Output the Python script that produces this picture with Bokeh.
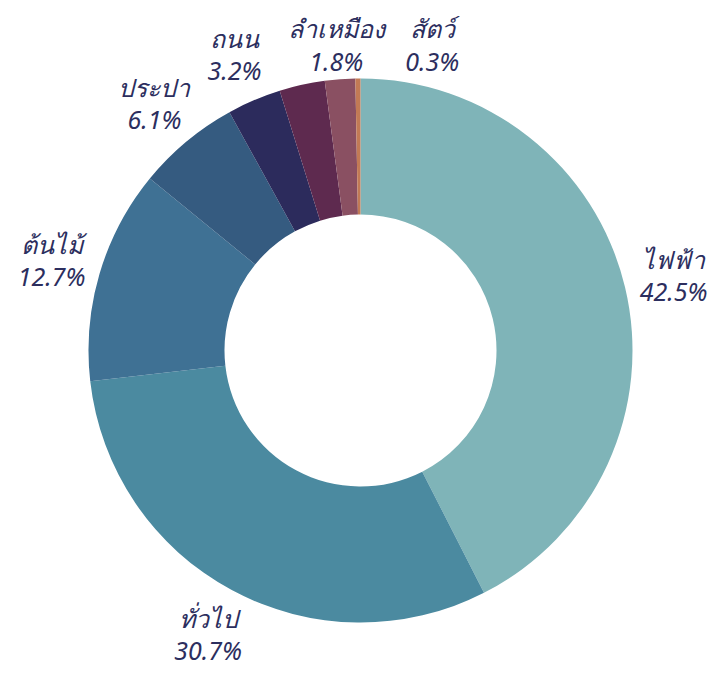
import math
from bokeh.plotting import figure
from bokeh.models import ColumnDataSource, Range1d
from bokeh.core.properties import value
from bokeh.embed import file_html
from bokeh.resources import INLINE

# ---- data (clockwise from 12 o'clock) ----
categories = ["ไฟฟ้า", "ทั่วไป", "ต้นไม้", "ประปา", "ถนน", "", "ลำเหมือง", "สัตว์"]
shares = [42.5, 30.7, 12.7, 6.1, 3.2, 2.7, 1.8, 0.3]
pct_labels = ["42.5%", "30.7%", "12.7%", "6.1%", "3.2%", "", "1.8%", "0.3%"]
colors = ["#7fb4b8", "#4b8aa0", "#3f7194", "#355b80", "#2c2b5c",
          "#5e2a4f", "#8a5062", "#c27a55"]

W, H = 712, 672
CX, CY = 360, 322
R_OUT, R_IN = 272, 136
R_LABEL = 322
TOP_PAD = 44

total = sum(shares)
starts, ends, mids = [], [], []
cum = 0.0
for s in shares:
    a0 = math.pi / 2 - 2 * math.pi * (cum + s) / total
    a1 = math.pi / 2 - 2 * math.pi * cum / total
    starts.append(a0)
    ends.append(a1)
    mids.append((a0 + a1) / 2)
    cum += s

src = ColumnDataSource(dict(start=starts, end=ends, color=colors))

p = figure(width=W, height=H, output_backend="svg", toolbar_location=None,
           x_range=Range1d(0, W), y_range=Range1d(0, H),
           min_border=0, outline_line_color=None)
p.axis.visible = False
p.grid.visible = False
p.background_fill_color = "white"

p.annular_wedge(x=CX, y=CY, inner_radius=R_IN, outer_radius=R_OUT,
                start_angle="start", end_angle="end", color="color",
                line_color=None, source=src)

# ---- labels, placed around the ring with simple overlap avoidance ----
lx, ly, lt = [], [], []
prev = None
for cat, pct, m in zip(categories, pct_labels, mids):
    if not cat:
        continue
    x = CX + R_LABEL * math.cos(m)
    y = CY + R_LABEL * math.sin(m)
    w = max(len(cat), len(pct)) * 12
    if prev is not None:
        px, py, pw = prev
        need = (pw + w) / 2 + 18
        if abs(y - py) < 50 and x - px < need and x >= px - 5:
            x = px + need
            dx = x - CX
            y = CY + math.sqrt(max(R_LABEL ** 2 - dx ** 2, 0)) - 8
    y = min(y, H - TOP_PAD)
    lx.append(x)
    ly.append(y)
    lt.append(cat + "\n" + pct)
    prev = (x, y, w)

lsrc = ColumnDataSource(dict(x=lx, y=ly, t=lt))
p.text(x="x", y="y", text="t", source=lsrc, text_align="center",
       text_baseline="middle", text_font=value("Noto Sans"),
       text_font_style="italic", text_font_size="25px",
       text_color="#2c2e5e", text_line_height=0.95)

open("out.html", "w").write(file_html(p, INLINE))
